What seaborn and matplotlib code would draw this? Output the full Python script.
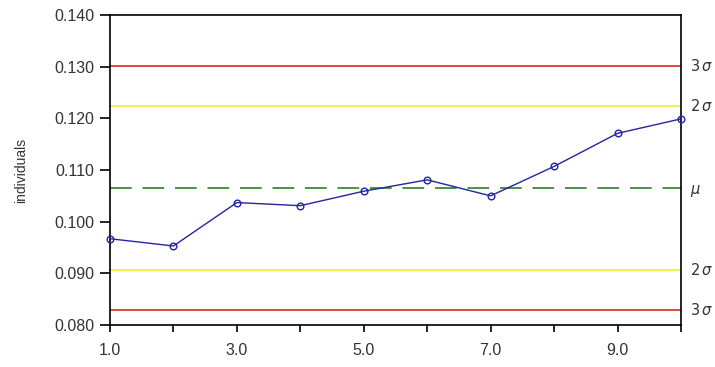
import numpy as np
import pandas as pd
import matplotlib
matplotlib.use("Agg")
import matplotlib.pyplot as plt
import seaborn as sns

# Data
samples = [1, 2, 3, 4, 5, 6, 7, 8, 9, 10]
individuals = [0.0967, 0.0953, 0.1037, 0.1031, 0.1059, 0.1081, 0.1050, 0.1107, 0.1171, 0.1199]

# Control limits
mean_line = 0.1065
limit_values = [0.1302, 0.1223, 0.0907, 0.0830]
limit_labels = [r"$3\,\sigma$", r"$2\,\sigma$", r"$2\,\sigma$", r"$3\,\sigma$"]
limit_colors = ["#e03838", "#f0f040", "#f0f040", "#e03838"]

x_ticks = [1, 3, 5, 7, 9]
x_tick_labels = ["1.0", "3.0", "5.0", "7.0", "9.0"]
y_ticks = [0.080, 0.090, 0.100, 0.110, 0.120, 0.130, 0.140]

df = pd.DataFrame({"sample": samples, "individuals": individuals})

sns.set_theme(style="ticks")
plt.rcParams["font.family"] = ["Liberation Sans", "DejaVu Sans"]
plt.rcParams["mathtext.fontset"] = "dejavusans"

fig = plt.figure(figsize=(7.15, 3.67), dpi=100)
ax = fig.add_axes([0.1538, 0.1144, 0.7986, 0.8446])

# limit lines
for val, col in zip(limit_values, limit_colors):
    ax.axhline(val, color=col, lw=1.3, zorder=1)
ax.axhline(mean_line, color="#3a8a3a", lw=1.3, ls=(0, (12, 6)), zorder=1)

# data
sns.lineplot(data=df, x="sample", y="individuals", ax=ax, color="#2424a4",
             lw=1.0, marker="o", markersize=4.8, markerfacecolor="none",
             markeredgecolor="#2424a4", markeredgewidth=1.0, zorder=3, clip_on=False)

ax.set_xlim(1, 10)
ax.set_ylim(0.080, 0.140)
ax.set_xticks(x_ticks)
ax.set_xticklabels(x_tick_labels)
ax.set_xticks([2, 4, 6, 8, 10], minor=True)
ax.set_yticks(y_ticks)
ax.set_yticklabels([f"{v:.3f}" for v in y_ticks])
ax.tick_params(axis="both", which="both", direction="out", width=1.2,
               colors="black", labelsize=11.5, labelcolor="#333333")
ax.tick_params(axis="x", which="both", length=5, pad=8)
ax.tick_params(axis="y", length=7, pad=4)
ax.set_xlabel("")
ax.set_ylabel("individuals", fontsize=10, color="#333333")
ax.yaxis.set_label_coords(-0.143, 0.5)

for s in ax.spines.values():
    s.set_color("black")
    s.set_linewidth(1.2)

# labels on right side
for val, lab in zip(limit_values, limit_labels):
    ax.text(10.15, val, lab, fontsize=10.5, va="center", ha="left",
            color="#333333", clip_on=False)
ax.text(10.15, mean_line - 0.0006, r"$\mu$", fontsize=10.5, va="center", ha="left",
        color="#333333", clip_on=False)

fig.savefig("out.png", dpi=100)
